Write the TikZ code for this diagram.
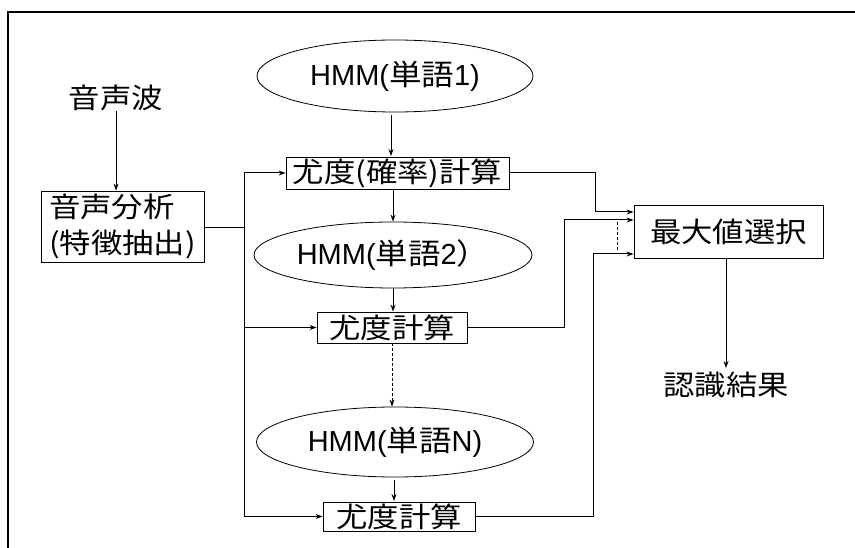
\documentclass[tikz,border=0pt]{standalone}
\usepackage{fontspec}
\setmainfont{Liberation Sans}
\newfontfamily\cjk[FakeStretch=1.12]{Noto Sans CJK JP}
\usetikzlibrary{arrows.meta,shapes.geometric}
\newcommand\jtxt[1]{{\cjk #1}}
\begin{document}
\begin{tikzpicture}[x=1pt,y=-1pt,
  jfont/.style={font=\cjk\fontsize{28}{36}\selectfont},
  lfont/.style={font=\fontsize{29}{34}\selectfont},
  box/.style={draw, line width=0.8pt, inner sep=0pt, jfont},
  lbl/.style={inner sep=0pt, jfont},
  ell/.style={draw, ellipse, line width=0.8pt, inner sep=0pt, lfont},
  conn/.style={line width=1pt, -{Stealth[length=7pt,width=5pt]}},
  plain/.style={line width=1pt},
  dconn/.style={line width=1pt, dashed, dash pattern=on 3pt off 2pt, -{Stealth[length=7pt,width=5pt]}},
  dline/.style={line width=0.8pt, dash pattern=on 3pt off 2pt}
]
\useasboundingbox (0,0) rectangle (855,548);
\draw[line width=1.2pt] (8,548) -- (8,12) -- (855,12);

\node[lbl] (wave) at (116,98) {音声波};
\node[box, minimum width=163, minimum height=71, align=left] (ana) at (122.5,226.5) {音声分析\\(特徴抽出)};

\node[ell, minimum width=276, minimum height=72] (h1) at (395,76) {HMM(\jtxt{単語}1)};
\node[box, minimum width=223, minimum height=32] (b1) at (397.5,173) {尤度(確率)計算};
\node[ell, minimum width=278, minimum height=66] (h2) at (393,255) {HMM(\jtxt{単語}2\jtxt{）}};
\node[box, minimum width=150, minimum height=31] (b2) at (392,327.5) {尤度計算};
\node[ell, minimum width=277, minimum height=70] (hN) at (395,442) {HMM(\jtxt{単語}N)};
\node[box, minimum width=152, minimum height=29] (b3) at (399,516.5) {尤度計算};

\node[box, minimum width=189, minimum height=53] (mx) at (728.5,231.5) {最大値選択};
\node[lbl] (res) at (726,385) {認識結果};

\coordinate (j) at (244,228);
\coordinate (a1) at (595,212);
\coordinate (a2) at (564,220);
\coordinate (a3) at (593,254);
\coordinate (d1) at (617,222);
\coordinate (d2) at (617,250);
\coordinate (u1) at (391,115);
\coordinate (v1) at (391,156);
\coordinate (uN) at (394,480);
\coordinate (vN) at (394,501);
\coordinate (r1) at (726,258);
\coordinate (r2) at (726,368);

\draw[conn] (wave.south) -- (wave.south |- ana.north);
\draw[plain] (ana.east |- j) -- (j);
\draw[conn] (j) |- (b1.west);
\draw[conn] (j) |- (b3.west);
\draw[conn] (j |- b2.west) -- (b2.west);

\draw[conn] (u1) -- (v1);
\draw[conn] (b1.south -| h2.north) -- (h2.north);
\draw[conn] (h2.south) -- (h2.south |- b2.north);
\draw[dconn] (b2.south) -- (b2.south |- hN.north);
\draw[conn] (uN) -- (vN);

\draw[conn] (b1.east) -| (a1) -- (a1 -| mx.west);
\draw[conn] (b2.east) -| (a2) -- (a2 -| mx.west);
\draw[conn] (b3.east) -| (a3) -- (a3 -| mx.west);
\draw[dline] (d1) -- (d2);
\draw[conn] (r1) -- (r2);
\end{tikzpicture}
\end{document}
